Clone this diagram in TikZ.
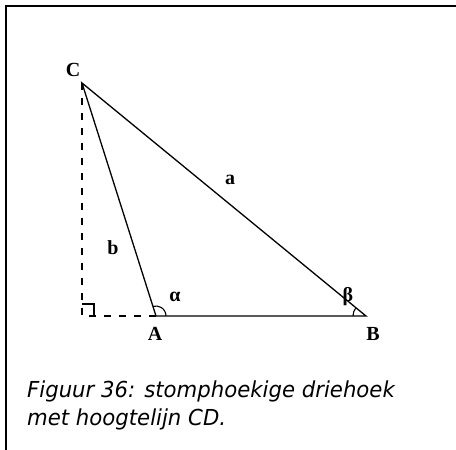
\documentclass[tikz,border=0pt]{standalone}
\usepackage{fontspec}
\setmainfont{Liberation Serif}
\newfontfamily\capfont{DejaVu Sans}
\begin{document}
\begin{tikzpicture}[x=1pt,y=-1pt,
  edge/.style={line width=1.3pt},
  dashedge/.style={line width=1.3pt,dash pattern=on 7pt off 8pt},
  lbl/.style={font=\fontsize{20}{20}\selectfont\bfseries,inner sep=0pt},
  captext/.style={font=\capfont\itshape\fontsize{22}{22}\selectfont,anchor=base west,inner sep=0pt,xscale=0.965}]
\useasboundingbox (0,0) rectangle (456,450);
\draw[line width=1.6pt] (456,6) -- (6,6) -- (6,450);
\coordinate (C) at (82,83);
\coordinate (D) at (82,316);
\coordinate (A) at (156,316);
\coordinate (B) at (366,316);
\draw[edge] (C) -- (A) -- (B) -- cycle;
\draw[dashedge] (C) -- (D) -- (A);
\draw[line width=1.1pt] ([yshift=12pt]D) -| ([xshift=12pt]D);
\draw[line width=1.1pt] ([xshift=10pt]A) arc[start angle=0,end angle=108,radius=10pt];
\draw[line width=1.1pt] ([xshift=-13pt]B) arc[start angle=180,end angle=140.7,radius=13pt];
\node[lbl] (lC) at (73,70) {C};
\node[lbl] (lA) at (155,334) {A};
\node[lbl] (lB) at (373,334) {B};
\node[lbl] (la) at (230,180) {a};
\node[lbl] (lb) at (113,248) {b};
\node[lbl] (lal) at (175,297) {α};
\node[lbl] (lbe) at (348,297) {β};
\node[captext] (c1) at (27,397) {Figuur 36: stomphoekige driehoek};
\node[captext] (c2) at (27,425) {met hoogtelijn CD.};
\end{tikzpicture}
\end{document}
